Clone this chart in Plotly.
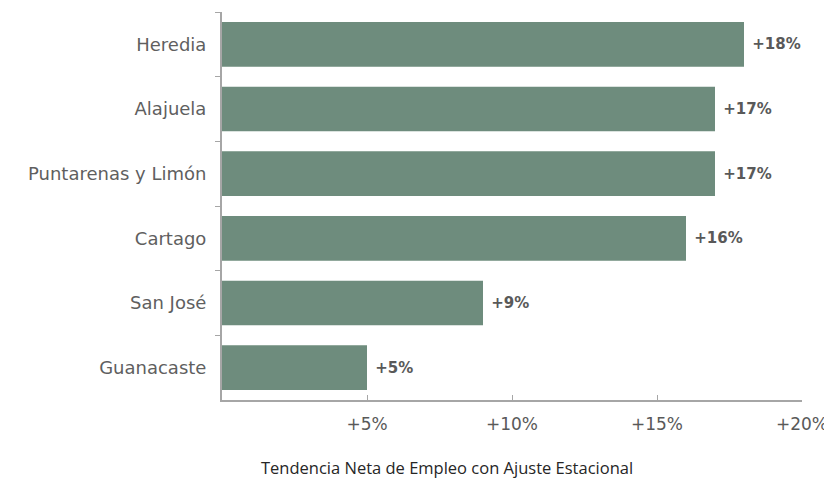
import plotly.graph_objects as go

categories = ["Heredia", "Alajuela", "Puntarenas y Limón", "Cartago", "San José", "Guanacaste"]
values = [18, 17, 17, 16, 9, 5]
tick_vals = [0, 5, 10, 15, 20]
tick_text = ["", "+5%", "+10%", "+15%", "+20%"]
x_title = "Tendencia Neta de Empleo con Ajuste Estacional"

fig = go.Figure(go.Bar(
    x=values,
    y=categories,
    orientation="h",
    marker=dict(color="#6e8c7d", line=dict(width=0)),
    text=[f"\u00a0+{v}%" for v in values],
    textposition="outside",
    textfont=dict(family="DejaVu Sans", size=15, color="#595959"),
    texttemplate="<b>%{text}</b>",
    cliponaxis=False,
    width=0.69,
))

fig.add_annotation(
    text=x_title, xref="paper", yref="paper", x=0.388, y=0,
    xanchor="center", yanchor="middle", yshift=-67, showarrow=False,
    font=dict(family="Open Sans, DejaVu Sans", size=16.5, color="#262626"),
)

fig.update_layout(
    width=824, height=477,
    margin=dict(l=214, r=30, t=4, b=85),
    plot_bgcolor="white", paper_bgcolor="white",
    showlegend=False,
    xaxis=dict(
        range=[0, 20], tickvals=tick_vals, ticktext=tick_text,
        showgrid=False, zeroline=False, automargin=False,
        showline=True, linecolor="#a6a6a6", linewidth=2,
        ticks="inside", ticklen=5, tickcolor="#a6a6a6",
        ticklabelstandoff=8,
        tickfont=dict(family="DejaVu Sans", size=17, color="#595959"),
    ),
    yaxis=dict(
        autorange="reversed", showgrid=False, zeroline=False, automargin=False,
        showline=True, linecolor="#a6a6a6", linewidth=2,
        ticks="outside", tickson="boundaries", ticklen=5, tickcolor="#a6a6a6",
        ticklabelstandoff=10,
        tickfont=dict(family="DejaVu Sans", size=18, color="#5f5f5f"),
    ),
    bargap=0.3,
)

fig.write_html("out.html")
